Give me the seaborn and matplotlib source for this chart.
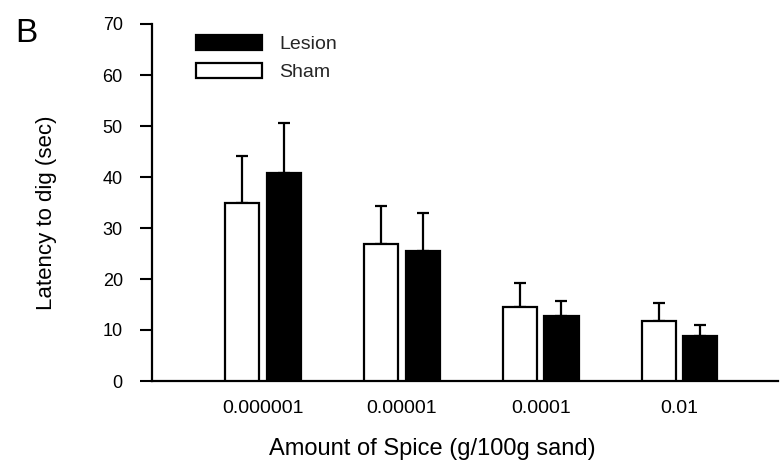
import matplotlib
matplotlib.use("Agg")
import matplotlib.pyplot as plt
from matplotlib.patches import Patch
import numpy as np
import pandas as pd
import seaborn as sns

# ---- data ----
spice_levels = ["0.000001", "0.00001", "0.0001", "0.01"]
groups = ["Sham", "Lesion"]
sham_mean = [35.0, 26.9, 14.6, 11.8]
sham_sem = [9.1, 7.4, 4.7, 3.55]
lesion_mean = [40.7, 25.5, 12.8, 8.9]
lesion_sem = [9.8, 7.4, 2.95, 2.15]
y_ticks = [0, 10, 20, 30, 40, 50, 60, 70]

df = pd.DataFrame({
    "spice": spice_levels * 2,
    "group": ["Sham"] * 4 + ["Lesion"] * 4,
    "latency": sham_mean + lesion_mean,
})
sems = {"Sham": sham_sem, "Lesion": lesion_sem}

sns.set_theme(style="ticks")
plt.rcParams["font.family"] = ["Liberation Sans", "DejaVu Sans"]

fig = plt.figure(figsize=(7.8, 4.67), dpi=100)
ax = fig.add_axes([152 / 780, 1 - 381 / 467, 626 / 780, 357 / 467])

sns.barplot(data=df, x="spice", y="latency", hue="group", order=spice_levels,
            hue_order=groups, palette={"Sham": "white", "Lesion": "black"},
            edgecolor="black", linewidth=1.6, width=0.6, gap=0.18,
            legend=False, ax=ax, zorder=3)

# upper-only error bars
for cont, g in zip(ax.containers, groups):
    xs = [b.get_x() + b.get_width() / 2 for b in cont]
    hs = [b.get_height() for b in cont]
    err = sems[g]
    ax.errorbar(xs, hs, yerr=[np.zeros(len(err)), err], fmt="none",
                ecolor="black", elinewidth=1.6, capsize=4.5, capthick=1.6,
                zorder=2)

ax.set_xlim(-0.80, 3.71)
ax.set_ylim(0, 70)
ax.set_yticks(y_ticks)
ax.tick_params(axis="y", length=9, width=1.5, pad=12, labelsize=13,
               direction="out", color="black", labelcolor="black")
ax.tick_params(axis="x", length=0, pad=14, labelsize=14, labelcolor="black")
for s in ["top", "right"]:
    ax.spines[s].set_visible(False)
for s in ["left", "bottom"]:
    ax.spines[s].set_linewidth(1.6)
    ax.spines[s].set_color("black")

ax.set_xlabel("Amount of Spice (g/100g sand)", fontsize=17, color="black",
              va="center")
ax.xaxis.set_label_coords(0.447, -0.19)
ax.set_ylabel("Latency to dig (sec)", fontsize=16, color="black")
ax.yaxis.set_label_coords(-0.152, 0.47)

handles = [Patch(facecolor="black", edgecolor="black", linewidth=1.6),
           Patch(facecolor="white", edgecolor="black", linewidth=1.6)]
ax.legend(handles, ["Lesion", "Sham"], loc="upper left",
          bbox_to_anchor=(0.07, 0.97), frameon=False, fontsize=14,
          handlelength=3.4, handleheight=0.8, labelspacing=0.5,
          handletextpad=0.9, borderpad=0, borderaxespad=0)

fig.text(15 / 780, 1 - 33 / 467, "B", fontsize=24, color="black",
         va="center", ha="left")

fig.savefig("out.png", dpi=100)
